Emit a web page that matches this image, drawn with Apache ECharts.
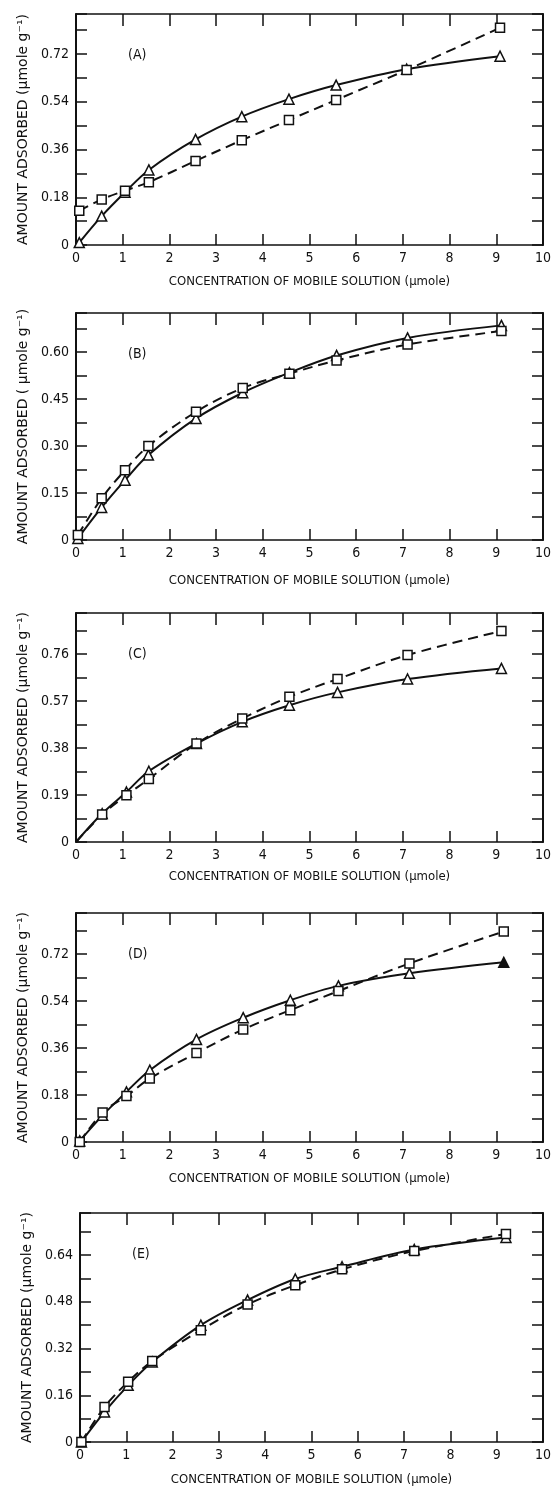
<!DOCTYPE html>
<html style="height: 100%">
<head>
    <meta charset="utf-8">
    <script src="https://cdn.jsdelivr.net/npm/echarts@6/dist/echarts.min.js"></script>
</head>
<body style="height:100%;margin:0;background:#fff">
    <div id="main" style="width:554px;height:1491px;"></div>
    <script type="text/javascript">

        // x values (concentration, umole) and amounts adsorbed
        var concA = [0.07, 0.55, 1.05, 1.56, 2.56, 3.55, 4.56, 5.57, 7.08, 9.08];
        var triA  = [0.009, 0.109, 0.199, 0.283, 0.398, 0.484, 0.55, 0.603, 0.663, 0.712];
        var sqA   = [0.129, 0.172, 0.205, 0.237, 0.317, 0.395, 0.471, 0.547, 0.66, 0.819];

        var concB = [0.04, 0.55, 1.05, 1.55, 2.57, 3.57, 4.57, 5.58, 7.1, 9.11];
        var triB  = [0.005, 0.104, 0.191, 0.271, 0.388, 0.47, 0.534, 0.589, 0.645, 0.685];
        var sqB   = [0.016, 0.133, 0.223, 0.30, 0.409, 0.485, 0.531, 0.573, 0.624, 0.667];

        var concC = [0, 0.56, 1.08, 1.56, 2.58, 3.56, 4.57, 5.6, 7.1, 9.11];
        var triC  = [0, 0.115, 0.202, 0.286, 0.398, 0.486, 0.553, 0.605, 0.659, 0.702];
        var sqC   = [0, 0.111, 0.189, 0.255, 0.398, 0.499, 0.587, 0.659, 0.756, 0.853];

        var concD = [0.08, 0.57, 1.08, 1.58, 2.58, 3.58, 4.59, 5.62, 7.14, 9.16];
        var triD  = [0.004, 0.102, 0.192, 0.275, 0.393, 0.476, 0.543, 0.598, 0.646, 0.688];
        var sqD   = [0.0, 0.113, 0.176, 0.243, 0.341, 0.431, 0.505, 0.578, 0.684, 0.806];

        var concE = [0.03, 0.53, 1.04, 1.56, 2.61, 3.62, 4.65, 5.66, 7.22, 9.2];
        var triE  = [0, 0.103, 0.194, 0.274, 0.40, 0.486, 0.558, 0.60, 0.659, 0.70];
        var sqE   = [0, 0.12, 0.206, 0.277, 0.383, 0.471, 0.537, 0.591, 0.654, 0.712];

        // y tick label step for each panel (minor ticks at half step)
        var labels = ['(A)', '(B)', '(C)', '(D)', '(E)'];
        var yStep  = [0.18, 0.15, 0.19, 0.18, 0.16];
        var yTop   = [0.871, 0.7245, 0.926, 0.877, 0.784];
        var yNames = [
            'AMOUNT ADSORBED (\u00b5mole g\u207b\u00b9)',
            'AMOUNT ADSORBED ( \u00b5mole g\u207b\u00b9)',
            'AMOUNT ADSORBED (\u00b5mole g\u207b\u00b9)',
            'AMOUNT ADSORBED (\u00b5mole g\u207b\u00b9)',
            'AMOUNT ADSORBED (\u00b5mole g\u207b\u00b9)'
        ];
        var xName = 'CONCENTRATION OF MOBILE SOLUTION (\u00b5mole)';

        var panels = [
            {conc: concA, tri: triA, sq: sqA},
            {conc: concB, tri: triB, sq: sqB},
            {conc: concC, tri: triC, sq: sqC, hideFirst: true},
            {conc: concD, tri: triD, sq: sqD, fillLastTri: true},
            {conc: concE, tri: triE, sq: sqE}
        ];

        // pixel layout of the five frames
        var layout = [
            {left: 76, width: 468, top: 14,   height: 231, nameGap: 30},
            {left: 76, width: 468, top: 313,  height: 227, nameGap: 34},
            {left: 76, width: 469, top: 613,  height: 229, nameGap: 28},
            {left: 76, width: 468, top: 913,  height: 229, nameGap: 30},
            {left: 80, width: 465, top: 1213, height: 229, nameGap: 31}
        ];

        var FONT = "'DejaVu Sans Condensed', 'Liberation Sans Narrow', sans-serif";
        var FONT_Y = "'DejaVu Sans', sans-serif";
        var INK = '#111';

        var grid = [], xAxis = [], yAxis = [], series = [], title = [];

        function pts(xs, ys, p, isTri) {
            return xs.map(function (x, i) {
                var item = {value: [x, ys[i]]};
                if (p.hideFirst && i === 0) item.symbol = 'none';
                if (isTri && p.fillLastTri && i === xs.length - 1) item.itemStyle = {color: INK};
                return item;
            });
        }

        panels.forEach(function (p, k) {
            var L = layout[k];
            grid.push({left: L.left, top: L.top, width: L.width, height: L.height});
            title.push({
                text: labels[k], left: L.left + 47, top: L.top + 29,
                textStyle: {fontFamily: FONT, fontSize: 14, fontWeight: 'normal', color: INK}
            });

            var step = yStep[k];
            // bottom x axis
            xAxis.push({
                gridIndex: k, type: 'value', min: 0, max: 10, interval: 1, position: 'bottom',
                name: xName, nameLocation: 'middle', nameGap: L.nameGap,
                nameTextStyle: {fontFamily: FONT, fontSize: 13, color: INK},
                axisLine: {onZero: false, lineStyle: {color: INK, width: 1.5}},
                axisTick: {inside: true, length: 11, lineStyle: {color: INK, width: 1.5}},
                axisLabel: {fontFamily: FONT, fontSize: 14, color: INK, margin: 6},
                splitLine: {show: false}
            });
            // top mirror
            xAxis.push({
                gridIndex: k, type: 'value', min: 0, max: 10, interval: 1, position: 'top',
                axisLine: {onZero: false, lineStyle: {color: INK, width: 1.5}},
                axisTick: {inside: true, length: 12, lineStyle: {color: INK, width: 1.5}},
                axisLabel: {show: false}, splitLine: {show: false}
            });
            // left y axis
            yAxis.push({
                gridIndex: k, type: 'value', min: 0, max: yTop[k], interval: step / 2, position: 'left',
                name: yNames[k], nameLocation: 'middle', nameRotate: 90, nameGap: 46,
                nameTextStyle: {fontFamily: FONT_Y, fontSize: 14, color: INK},
                axisLine: {onZero: false, lineStyle: {color: INK, width: 2}},
                axisTick: {inside: true, length: 11, lineStyle: {color: INK, width: 1.5}},
                axisLabel: {
                    fontFamily: FONT, fontSize: 14, color: INK, margin: 7,
                    formatter: function (v) {
                        var r = v / step;
                        if (Math.abs(r - Math.round(r)) > 1e-6) return '';
                        if (v === 0) return '0';
                        return v.toFixed(2);
                    }
                },
                splitLine: {show: false}
            });
            // right mirror
            yAxis.push({
                gridIndex: k, type: 'value', min: 0, max: yTop[k], interval: step / 2, position: 'right',
                axisLine: {onZero: false, lineStyle: {color: INK, width: 2}},
                axisTick: {inside: true, length: 11, lineStyle: {color: INK, width: 1.5}},
                axisLabel: {show: false}, splitLine: {show: false}
            });

            var xi = k * 2, yi = k * 2;
            series.push({
                type: 'line', xAxisIndex: xi, yAxisIndex: yi, smooth: 0.35,
                data: pts(p.conc, p.tri, p, true),
                symbol: 'triangle', symbolSize: 10, showAllSymbol: true,
                lineStyle: {color: INK, width: 2},
                itemStyle: {color: '#fff', borderColor: INK, borderWidth: 1.5},
                z: 3
            });
            series.push({
                type: 'line', xAxisIndex: xi, yAxisIndex: yi, smooth: 0.35,
                data: pts(p.conc, p.sq, p, false),
                symbol: 'rect', symbolSize: 9, showAllSymbol: true,
                lineStyle: {color: INK, width: 2, type: [10, 6]},
                itemStyle: {color: '#fff', borderColor: INK, borderWidth: 1.5},
                z: 4
            });
        });

        var myChart = echarts.init(document.getElementById('main'));
        myChart.setOption({
            animation: false,
            backgroundColor: '#fff',
            title: title,
            grid: grid,
            xAxis: xAxis,
            yAxis: yAxis,
            series: series
        });
    </script>
</body>
</html>
